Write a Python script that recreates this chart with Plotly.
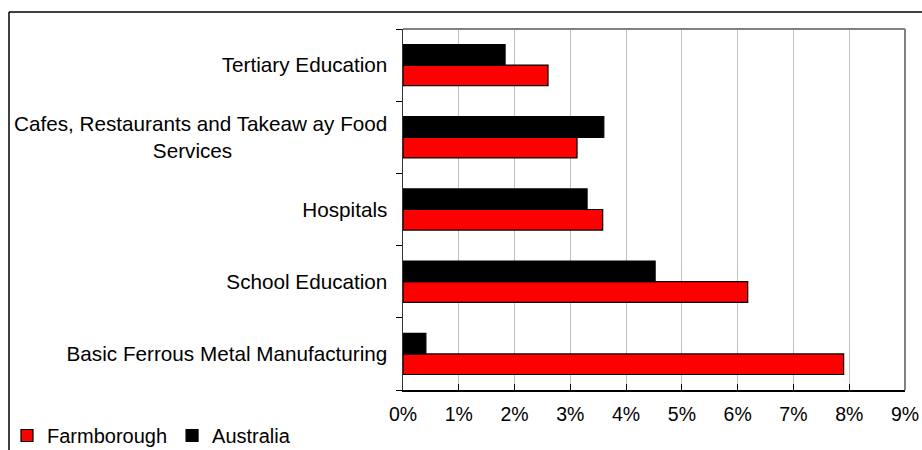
import plotly.graph_objects as go

categories = [
    "Basic Ferrous Metal Manufacturing",
    "School Education",
    "Hospitals",
    "Cafes, Restaurants and Takeaw ay Food<br>Services" + "\u00a0" * 27,
    "Tertiary Education",
]
farmborough = [7.90, 6.18, 3.58, 3.12, 2.60]
australia = [0.41, 4.52, 3.30, 3.60, 1.83]
x_ticks = list(range(0, 10))
x_tick_labels = [f"{v}%" for v in x_ticks]

FONT = "Liberation Sans, Arial, sans-serif"

W, H = 922, 450
L, R, T, B = 403, 17, 29, 60
PW, PH = W - L - R, H - T - B


def px_x(x):
    return (x - L) / PW


def px_y(y):
    return (H - B - y) / PH


fig = go.Figure()
fig.add_trace(go.Bar(
    y=categories, x=farmborough, orientation="h", name="Farmborough",
    marker=dict(color="#ff0000", line=dict(color="#000000", width=1.2)),
))
fig.add_trace(go.Bar(
    y=categories, x=australia, orientation="h", name="Australia",
    marker=dict(color="#000000", line=dict(color="#000000", width=1.2)),
))

fig.update_layout(
    width=W, height=H,
    margin=dict(l=L, r=R, t=T, b=B, pad=0, autoexpand=False),
    paper_bgcolor="white", plot_bgcolor="white",
    barmode="group", bargap=0.43, bargroupgap=0,
    font=dict(family=FONT, size=20, color="#000000"),
    showlegend=True,
    legend=dict(
        orientation="h", x=px_x(7), y=px_y(435.5), xanchor="left", yanchor="middle",
        font=dict(family=FONT, size=20, color="#000000"),
        bgcolor="rgba(0,0,0,0)", itemwidth=30, tracegroupgap=0,
    ),
    xaxis=dict(
        range=[0, 9], tickvals=x_ticks, ticktext=x_tick_labels,
        showgrid=True, gridcolor="#c0c0c0", gridwidth=1,
        ticks="inside", ticklen=6, tickcolor="#000000",
        showline=True, linecolor="#000000", linewidth=1.5,
        zeroline=False, ticklabelstandoff=6, ticklabeloverflow="allow",
        tickfont=dict(family=FONT, size=19.5, color="#000000"),
        fixedrange=True,
    ),
    yaxis=dict(
        type="category", tickson="boundaries",
        ticks="outside", ticklen=6, tickcolor="#000000",
        showline=True, linecolor="#333333", linewidth=1.5,
        showgrid=False, zeroline=False, ticklabelstandoff=10,
        tickfont=dict(family=FONT, size=20.7, color="#000000"),
        fixedrange=True,
    ),
    shapes=[
        dict(type="line", xref="paper", yref="paper", x0=0, x1=1, y0=1, y1=1,
             line=dict(color="#808080", width=2), layer="above"),
        dict(type="line", xref="paper", yref="paper", x0=1, x1=1, y0=0, y1=1,
             line=dict(color="#808080", width=2), layer="above"),
        dict(type="line", xref="paper", yref="paper",
             x0=px_x(9), x1=px_x(940), y0=px_y(12), y1=px_y(12),
             line=dict(color="#000000", width=1.5)),
        dict(type="line", xref="paper", yref="paper",
             x0=px_x(9), x1=px_x(9), y0=px_y(12), y1=px_y(470),
             line=dict(color="#000000", width=1.5)),
    ],
)

fig.write_html(
    "out.html",
    config={"displayModeBar": False, "staticPlot": True},
    post_script="document.body.style.margin='0';document.documentElement.style.overflow='hidden';document.body.style.overflow='hidden';",
)
